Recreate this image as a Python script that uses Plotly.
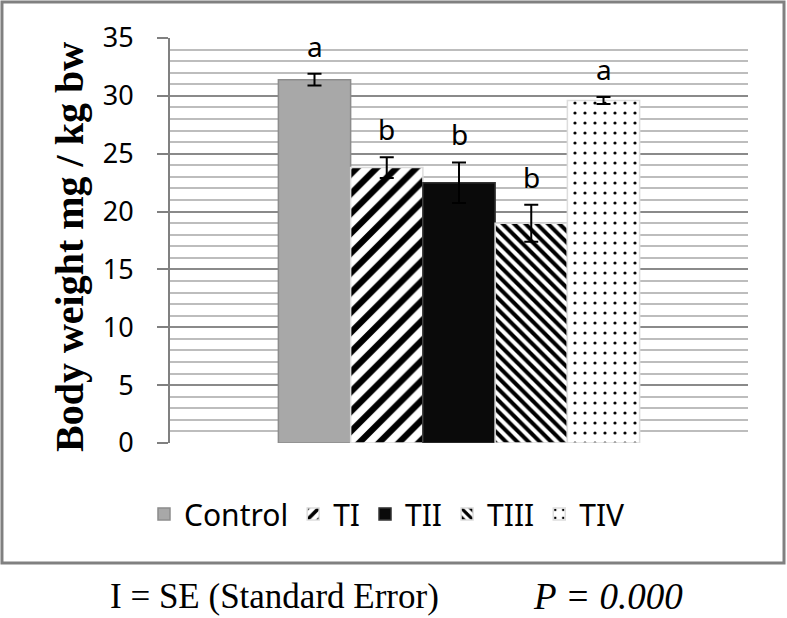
import plotly.graph_objects as go

groups = ["Control", "TI", "TII", "TIII", "TIV"]
means = [31.4, 23.8, 22.5, 19.0, 29.6]
se = [0.5, 0.9, 1.75, 1.6, 0.3]
letters = ["a", "b", "b", "b", "a"]
y_ticks = [0, 5, 10, 15, 20, 25, 30, 35]

fills = ["#a8a8a8", "white", "#0a0a0a", "white", "white"]
patterns = [
    dict(shape=""),
    dict(shape="/", fgcolor="black", bgcolor="white", size=14, solidity=0.45, fgopacity=1),
    dict(shape=""),
    dict(shape="\\", fgcolor="black", bgcolor="white", size=8, solidity=0.5, fgopacity=1),
    dict(shape=".", fgcolor="black", bgcolor="white", size=10, solidity=0.08, fgopacity=1),
]
edges = ["#8c8c8c", "#dddddd", "#333333", "#dddddd", "#dddddd"]

fig = go.Figure()
for i, g in enumerate(groups):
    fig.add_trace(go.Bar(
        x=[i], y=[means[i]], name=g, width=1,
        marker=dict(color=fills[i], pattern=patterns[i],
                    line=dict(color=edges[i], width=1.5)),
        error_y=dict(type="data", array=[se[i]], color="black",
                     thickness=2, width=7),
    ))

for i, g in enumerate(groups):
    fig.add_annotation(x=i, y=means[i] + se[i], text=letters[i],
                       showarrow=False, yanchor="bottom", yshift=7,
                       font=dict(family="Noto Sans", size=28, color="black"))

fig.add_annotation(xref="paper", yref="paper", x=-0.173, y=0.484,
                   xanchor="center", yanchor="middle",
                   text="<b>Body weight mg / kg bw</b>", textangle=-90,
                   showarrow=False,
                   font=dict(family="Liberation Serif", size=40, color="black"))
fig.add_annotation(xref="paper", yref="paper", x=0.18, y=-0.38,
                   xanchor="center", yanchor="middle",
                   text="I = SE (Standard Error)", showarrow=False,
                   font=dict(family="Liberation Serif", size=35, color="black"))
fig.add_annotation(xref="paper", yref="paper", x=0.758, y=-0.38,
                   xanchor="center", yanchor="middle",
                   text="<i>P = 0.000</i>", showarrow=False,
                   font=dict(family="Liberation Serif", size=37, color="black"))

fig.add_shape(type="rect", xref="paper", yref="paper",
              x0=-0.2907, x1=1.0623, y0=-0.2963, y1=1.0889,
              line=dict(color="#808080", width=3), fillcolor="rgba(0,0,0,0)",
              layer="below")

fig.update_layout(
    width=787, height=618,
    margin=dict(l=170, r=39, t=38, b=175),
    paper_bgcolor="white", plot_bgcolor="white",
    barmode="overlay", showlegend=True,
    legend=dict(orientation="h", x=-0.045, y=-0.175, yanchor="middle",
                xanchor="left", font=dict(family="Noto Sans", size=30, color="black"),
                itemwidth=30, traceorder="normal"),
    xaxis=dict(range=[-2, 6], showticklabels=False, showgrid=False,
               zeroline=False, showline=False, ticks=""),
    yaxis=dict(range=[0, 35], tickvals=y_ticks, ticks="outside", ticklen=11,
               tickwidth=2, tickcolor="#808080",
               showline=True, linecolor="#808080", linewidth=2,
               showgrid=True, gridcolor="#8a8a8a", gridwidth=2,
               zeroline=False, ticklabelstandoff=18,
               tickfont=dict(family="Noto Sans", size=27, color="black"),
               minor=dict(dtick=1, showgrid=True, gridcolor="#bdbdbd",
                          gridwidth=2, ticks="")),
)

fig.write_html("out.html", config={"displayModeBar": False},
               post_script="document.body.style.margin='0';")
